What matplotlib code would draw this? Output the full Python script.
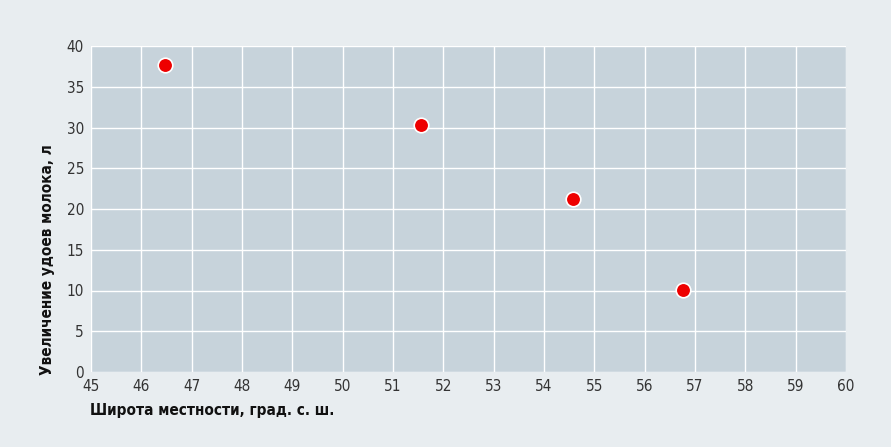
import matplotlib
matplotlib.use("Agg")
import matplotlib.pyplot as plt

latitude = [46.48, 51.56, 54.58, 56.76]
milk_increase = [37.7, 30.3, 21.2, 10.1]
x_ticks = list(range(45, 61))
y_ticks = list(range(0, 41, 5))

plt.rcParams['font.family'] = ['DejaVu Sans']
plt.rcParams['font.stretch'] = 'condensed'

fig = plt.figure(figsize=(8.91, 4.47), dpi=100)
fig.patch.set_facecolor('#e8edf0')
ax = fig.add_axes([91/891, 1-372/447, (846-91)/891, (372-46)/447])
ax.set_facecolor('#c7d3db')
ax.set_xlim(45, 60)
ax.set_ylim(0, 40)
ax.set_xticks(x_ticks)
ax.set_yticks(y_ticks)
ax.grid(True, color='white', linewidth=1.0)
ax.set_axisbelow(True)
for s in ax.spines.values():
    s.set_visible(False)
ax.tick_params(length=0, labelsize=11, colors='#333333', pad=5)

ax.scatter(latitude, milk_increase, s=110, color='#ee0000', edgecolors='white',
           linewidths=1.2, zorder=3)

fig.text(90/891, 1-410/447, 'Широта местности, град. с. ш.', fontsize=11,
         fontweight='bold', color='#111111', ha='left', va='center')
fig.text(48/891, 1-375/447, 'Увеличение удоев молока, л', fontsize=11,
         fontweight='bold', color='#111111', rotation=90, ha='center', va='bottom')

fig.savefig('out.png', dpi=100, facecolor=fig.get_facecolor())
